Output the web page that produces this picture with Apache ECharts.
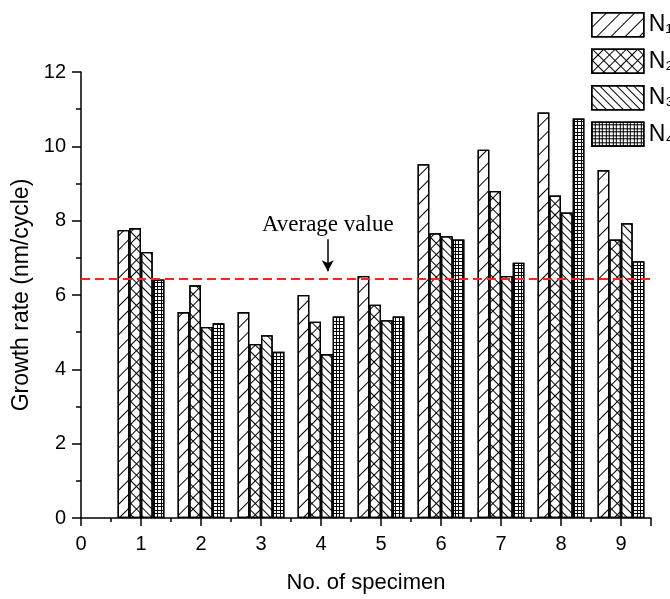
<!DOCTYPE html>
<html><head><meta charset="utf-8">
<script src="https://cdn.jsdelivr.net/npm/echarts@6/dist/echarts.min.js"></script>
<style>html,body{margin:0;padding:0;background:#fff}#c{width:670px;height:599px}</style>
</head><body><div id="c"></div>
<script>
// ---- data ----
const specimens = [1, 2, 3, 4, 5, 6, 7, 8, 9];
const seriesNames = ['N\u2081', 'N\u2082', 'N\u2083', 'N\u2084'];
const n1Values = [7.75, 5.54, 5.54, 6.00, 6.51, 9.52, 9.91, 10.91, 9.36];
const n2Values = [7.80, 6.26, 4.68, 5.28, 5.74, 7.66, 8.80, 8.68, 7.49];
const n3Values = [7.16, 5.14, 4.92, 4.41, 5.32, 7.58, 6.51, 8.22, 7.93];
const n4Values = [6.42, 5.24, 4.47, 5.42, 5.42, 7.49, 6.87, 10.75, 6.91];
const averageValue = 6.44;
const annotationText = 'Average value';
const arrowStart = [4.21, 7.50];
const arrowEnd = [4.21, 6.64];
const xTitle = 'No. of specimen';
const yTitle = 'Growth rate (nm/cycle)';

// ---- patterns ----
function gridRows(size) {
  const rows = [[size, 0]];
  for (let i = 1; i < size; i++) rows.push([1, size - 1]);
  return rows;
}
const decals = [
  { symbol: 'rect', symbolSize: 1, symbolKeepAspect: false, color: '#000',
    dashArrayX: [1, 0], dashArrayY: [1, 9], rotation: -Math.PI / 4 },
  { symbol: 'rect', symbolSize: 1, symbolKeepAspect: false, color: '#000',
    dashArrayX: gridRows(8), dashArrayY: [1, 0], rotation: Math.PI / 4 },
  { symbol: 'rect', symbolSize: 1, symbolKeepAspect: false, color: '#000',
    dashArrayX: [1, 0], dashArrayY: [1, 5], rotation: Math.PI / 4 },
  { symbol: 'rect', symbolSize: 1, symbolKeepAspect: false, color: '#000',
    dashArrayX: [[7, 0], [1, 2, 1, 3], [1, 2, 1, 3], [7, 0], [1, 2, 1, 3], [1, 2, 1, 3], [1, 2, 1, 3]],
    dashArrayY: [1, 0], rotation: 0 }
];

const allValues = [n1Values, n2Values, n3Values, n4Values];
const font = 'Liberation Sans, Arial, sans-serif';

const series = seriesNames.map((name, i) => ({
  name: name,
  type: 'bar',
  barWidth: 11.7,
  barGap: '0%',
  data: specimens.map((x, j) => [x, allValues[i][j]]),
  itemStyle: { color: '#fff', borderColor: '#000', borderWidth: 1.3, decal: decals[i] },
  emphasis: { disabled: true }
}));

series[0].markLine = {
  silent: true, animation: false, symbol: 'none',
  label: { show: false },
  lineStyle: { color: '#ff2222', type: [9, 5], width: 2 },
  data: [{ yAxis: averageValue }]
};
series[1].markLine = {
  silent: true, animation: false, symbol: ['none', 'arrow'], symbolSize: [9, 11],
  lineStyle: { color: '#000', type: 'solid', width: 1.5 },
  label: { show: true, position: 'start', formatter: annotationText, color: '#000',
           fontFamily: 'Liberation Serif, Times New Roman, serif', fontSize: 23, distance: 3 },
  data: [[{ coord: arrowStart }, { coord: arrowEnd }]]
};

const chart = echarts.init(document.getElementById('c'), null, { renderer: 'canvas' });
chart.setOption({
  animation: false,
  backgroundColor: '#fff',
  grid: { left: 81, right: 19, top: 72, bottom: 74, containLabel: false },
  legend: {
    orient: 'vertical', left: 586, top: 7,
    itemWidth: 52, itemHeight: 24, itemGap: 11,
    icon: 'rect',
    itemStyle: { borderColor: '#000', borderWidth: 1.5 },
    textStyle: { fontSize: 23, color: '#000', fontFamily: font },
    data: seriesNames
  },
  xAxis: {
    type: 'value', min: 0, max: 9.5, interval: 1,
    name: xTitle, nameLocation: 'middle', nameGap: 54,
    nameTextStyle: { fontSize: 22, color: '#000', fontFamily: font },
    axisLine: { show: true, lineStyle: { color: '#000', width: 1.5 } },
    axisTick: { show: true, inside: false, length: 8, lineStyle: { color: '#000', width: 1.5 } },
    minorTick: { show: true, splitNumber: 2, length: 4, lineStyle: { color: '#000', width: 1.5 } },
    axisLabel: { fontSize: 20, color: '#000', fontFamily: font, margin: 16, showMaxLabel: false,
                 formatter: v => (Number.isInteger(v) ? String(v) : '') },
    splitLine: { show: false }
  },
  yAxis: {
    type: 'value', min: 0, max: 12, interval: 2,
    name: yTitle, nameLocation: 'middle', nameGap: 44, nameRotate: 90,
    nameTextStyle: { fontSize: 23, color: '#000', fontFamily: font },
    axisLine: { show: true, lineStyle: { color: '#000', width: 1.5 } },
    axisTick: { show: true, inside: false, length: 9, lineStyle: { color: '#000', width: 1.5 } },
    minorTick: { show: true, splitNumber: 2, length: 5, lineStyle: { color: '#000', width: 1.5 } },
    axisLabel: { fontSize: 20, color: '#000', fontFamily: font, margin: 15 },
    splitLine: { show: false }
  },
  series: series
});
</script>
</body></html>
